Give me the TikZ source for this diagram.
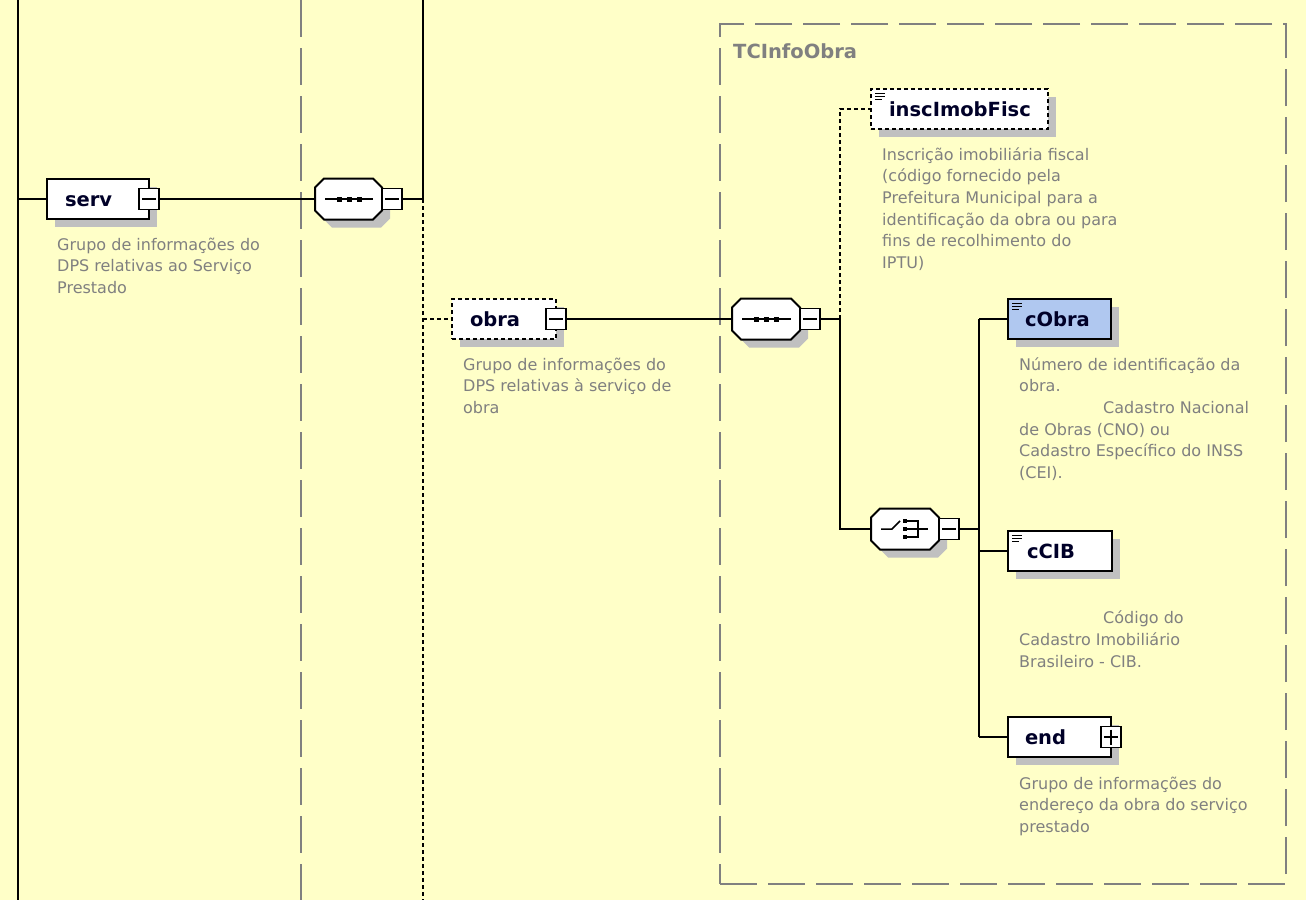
\documentclass[tikz,border=0pt]{standalone}
\usepackage{fontspec}
\setmainfont{DejaVu Sans}
\usetikzlibrary{calc,shadows}
\definecolor{bgyellow}{RGB}{255,255,200}
\definecolor{shadowgray}{RGB}{192,192,192}
\definecolor{guidegray}{RGB}{128,128,128}
\definecolor{descgray}{RGB}{128,128,128}
\definecolor{namecol}{RGB}{0,0,40}
\definecolor{selblue}{RGB}{176,200,240}
\newcommand\namefont{\fontsize{19.5}{22}\selectfont\bfseries}
\newcommand\descfont{\fontsize{16}{21.7}\selectfont}
\newcommand\xsoct[1]{%
  \draw[octline] ($(#1.north west)+(9,0)$) -- ($(#1.north east)+(-9,0)$) -- ($(#1.north east)+(0,9)$) -- ($(#1.south east)+(0,-9)$) -- ($(#1.south east)+(-9,0)$) -- ($(#1.south west)+(9,0)$) -- ($(#1.south west)+(0,-9)$) -- ($(#1.north west)+(0,9)$) -- cycle;}
\newcommand\xsseq[1]{%
  \draw[line width=1.5pt] ($(#1.west)+(10,0)$) -- ($(#1.east)+(-9,0)$);
  \foreach \dx in {22,32,42} {\fill ($(#1.west)+(\dx,-2.5)$) rectangle ++(5,5);}}
\newcommand\xschoice[1]{%
  \draw[line width=1.5pt] ($(#1.west)+(10,0)$) -- ($(#1.west)+(21,0)$) -- ($(#1.west)+(29,-8)$);
  \foreach \dy in {-10,-2,6} {\fill ($(#1.west)+(32,\dy)$) rectangle ++(4,4);}
  \draw[line width=1.5pt] ($(#1.west)+(36,-8)$) -- ($(#1.west)+(47,-8)$) -- ($(#1.west)+(47,8)$) -- ($(#1.west)+(36,8)$);
  \draw[line width=1.5pt] ($(#1.west)+(36,0)$) -- ($(#1.west)+(57,0)$);}
\newcommand\xsicon[1]{%
  \draw[line width=1pt] ($(#1.north west)+(4,4)$) -- ++(10,0) ($(#1.north west)+(4,7)$) -- ++(10,0) ($(#1.north west)+(4,10)$) -- ++(7,0);}
\tikzset{
  conn/.style={line width=2pt, black},
  dconn/.style={line width=2pt, black, dash pattern=on 4pt off 3pt},
  guide/.style={line width=2pt, guidegray, dash pattern=on 37pt off 11pt},
  shadowed/.style={drop shadow={shadow xshift=8pt, shadow yshift=-8pt, fill=shadowgray, opacity=1}},
  elem/.style={draw, line width=2pt, fill=white, shadowed, minimum height=40pt, inner sep=0pt, outer sep=0pt, anchor=west, text height=14pt, text depth=0pt, font=\namefont, text=namecol},
  optelem/.style={elem, dash pattern=on 4pt off 3pt},
  slot/.style={minimum height=41pt, inner sep=0pt, outer sep=0pt, anchor=west},
  octline/.style={draw, line width=2pt, fill=white, shadowed},
  pm/.style={draw, line width=1.5pt, fill=white, minimum width=20pt, minimum height=21pt, inner sep=0pt, outer sep=0pt},
  minus/.style={pm, path picture={\draw[line width=1.5pt] ($(path picture bounding box.west)+(3,0)$) -- ($(path picture bounding box.east)+(-3,0)$);}},
  plus/.style={pm, path picture={\draw[line width=1.5pt] ($(path picture bounding box.west)+(3,0)$) -- ($(path picture bounding box.east)+(-3,0)$) ($(path picture bounding box.north)+(0,3)$) -- ($(path picture bounding box.south)+(0,-3)$);}},
  desc/.style={anchor=north west, align=left, inner sep=0pt, font=\descfont, text=descgray},
}
\begin{document}
\begin{tikzpicture}[x=1pt,y=-1pt]
\useasboundingbox (0,0) rectangle (1306,900);
\fill[bgyellow] (0,0) rectangle (1306,900);
% guides
\node[guide, draw, minimum width=566pt, minimum height=860pt, anchor=north west, inner sep=0pt] (tcbox) at (719,23) {};
\node[anchor=base west, inner sep=0pt, font=\namefont, text=descgray] (tclabel) at (733,58) {TCInfoObra};
\coordinate (g1t) at (301,0);
\coordinate (g1b) at (301,900);
\draw[guide] (g1t) -- (g1b);
% bus coordinates
\coordinate (b0t) at (18,0);
\coordinate (b0b) at (18,900);
\coordinate (b0s) at (18,199);
\coordinate (b1t) at (423,0);
\coordinate (b1s) at (423,199);
\coordinate (b1o) at (423,319);
\coordinate (b1b) at (423,900);
\coordinate (v2i) at (840,109);
\coordinate (v2s) at (840,319);
\coordinate (v2c) at (840,529);
\coordinate (v3a) at (979,319);
\coordinate (v3c) at (979,529);
\coordinate (v3b) at (979,551);
\coordinate (v3e) at (979,737);
% slots for compositors
\node[slot, minimum width=67pt] (seqA) at (315,199) {};
\node[slot, minimum width=68pt] (seqB) at (732,319) {};
\node[slot, minimum width=68pt] (choice) at (871,529) {};
% serv
\node[elem] (serv) at (47,199) {\makebox[102pt][l]{\hspace*{18pt}serv}};
\node[minus] (servm) at (serv.east) {};
\xsoct{seqA}\xsseq{seqA}
\node[minus, anchor=west] (seqAm) at (seqA.east) {};
% obra
\node[optelem] (obra) at (452,319) {\makebox[104pt][l]{\hspace*{18pt}obra}};
\node[minus] (obram) at (obra.east) {};
\xsoct{seqB}\xsseq{seqB}
\node[minus, anchor=west] (seqBm) at (seqB.east) {};
% inscImobFisc
\node[optelem] (insc) at (871,109) {\makebox[177pt][l]{\hspace*{18pt}inscImobFisc}};
\xsicon{insc}
% choice
\xsoct{choice}\xschoice{choice}
\node[minus, anchor=west] (choicem) at (choice.east) {};
% children
\node[elem, fill=selblue] (cobra) at (1008,319) {\makebox[103pt][l]{\hspace*{17pt}cObra}};
\xsicon{cobra}
\node[elem] (ccib) at (1008,551) {\makebox[104pt][l]{\hspace*{19pt}cCIB}};
\xsicon{ccib}
\node[elem] (endel) at (1008,737) {\makebox[103pt][l]{\hspace*{17pt}end}};
\node[plus] (endp) at (endel.east) {};
% connectors
\draw[conn] (b0t) -- (b0b);
\draw[conn] (b0s) -- (serv.west);
\draw[conn] (servm.east) -- (seqA.west);
\draw[conn] (b1t) -- (b1s);
\draw[conn] (seqAm.east) -- (b1s);
\draw[dconn] (b1s) -- (b1b);
\draw[dconn] (b1o) -- (obra.west);
\draw[conn] (obram.east) -- (seqB.west);
\draw[conn] (seqBm.east) -- (v2s);
\draw[dconn] (v2s) -- (v2i) -- (insc.west);
\draw[conn] (v2s) -- (v2c) -- (choice.west);
\draw[conn] (choicem.east) -- (v3c);
\draw[conn] (v3a) -- (v3e);
\draw[conn] (v3a) -- (cobra.west);
\draw[conn] (v3b) -- (ccib.west);
\draw[conn] (v3e) -- (endel.west);
% descriptions
\node[desc] (servd) at (57,234.8) {\strut Grupo de informações do\\DPS relativas ao Serviço\\Prestado};
\node[desc] (obrad) at (463,354.8) {\strut Grupo de informações do\\DPS relativas à serviço de\\obra};
\node[desc] (inscd) at (882,144.8) {\strut Inscrição imobiliária fiscal\\(código fornecido pela\\Prefeitura Municipal para a\\identificação da obra ou para\\fins de recolhimento do\\IPTU)};
\node[desc] (cobrad) at (1019,354.8) {\strut Número de identificação da\\obra.\\\hspace*{84pt}Cadastro Nacional\\de Obras (CNO) ou\\Cadastro Específico do INSS\\(CEI).};
\node[desc] (ccibd) at (1019,586.8) {\strut\\\hspace*{84pt}Código do\\Cadastro Imobiliário\\Brasileiro - CIB.};
\node[desc] (endd) at (1019,773.8) {\strut Grupo de informações do\\endereço da obra do serviço\\prestado};
\end{tikzpicture}
\end{document}
